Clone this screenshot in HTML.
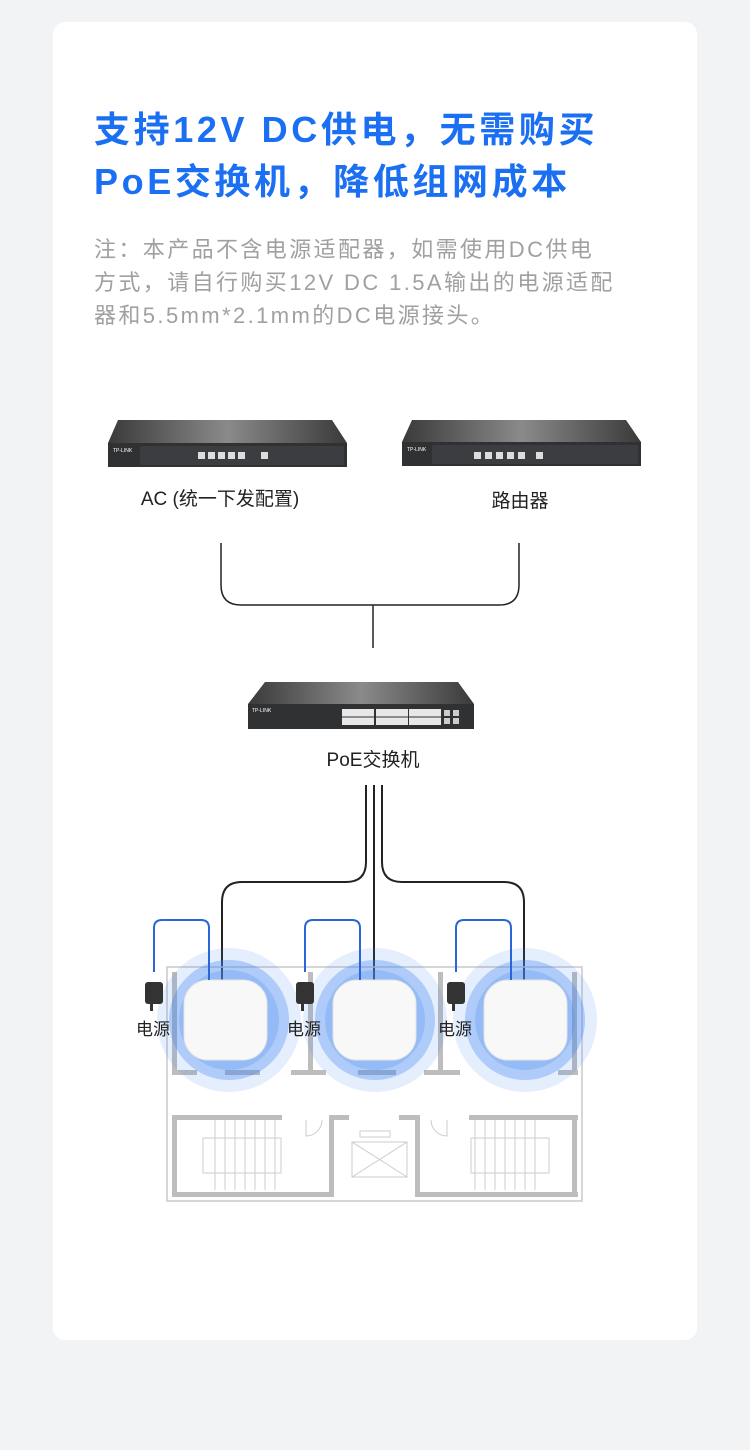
<!DOCTYPE html>
<html><head><meta charset="utf-8"><style>
html,body{margin:0;padding:0;}
body{width:750px;height:1450px;background:#f2f3f5;position:relative;overflow:hidden;font-family:"Liberation Sans","Noto Sans CJK SC",sans-serif;}
.card{position:absolute;left:53px;top:22px;width:644px;height:1318px;background:#fff;border-radius:12px;}
.t{position:absolute;left:94px;top:104px;color:#1b6ff2;font-size:36px;font-weight:bold;line-height:52px;letter-spacing:3.6px;white-space:nowrap;}
.n{position:absolute;left:94px;top:233px;color:#a0a0a0;font-size:22px;line-height:33px;letter-spacing:2.4px;white-space:nowrap;}
svg{position:absolute;left:0;top:0;}
</style></head><body>
<div class="card"></div>
<div class="t">支持12V DC供电，无需购买<br>PoE交换机，降低组网成本</div>
<div class="n">注：本产品不含电源适配器，如需使用DC供电<br>方式，请自行购买12V DC 1.5A输出的电源适配<br>器和5.5mm*2.1mm的DC电源接头。</div>
<svg width="750" height="1450" viewBox="0 0 750 1450">
<defs>
<linearGradient id="top" x1="0" x2="1"><stop offset="0" stop-color="#3a3a3a"/><stop offset="0.5" stop-color="#8a8a8a"/><stop offset="1" stop-color="#3a3a3a"/></linearGradient>
</defs>
<polygon points="118,420 332,420 347,443 108,443" fill="url(#top)"/>
<rect x="108" y="443" width="239" height="24" fill="#2f3133"/>
<rect x="140" y="446" width="204" height="19" fill="#3b3d40" rx="2"/>
<g fill="#ddd"><rect x="198" y="452" width="7" height="7"/><rect x="208" y="452" width="7" height="7"/><rect x="218" y="452" width="7" height="7"/><rect x="228" y="452" width="7" height="7"/><rect x="238" y="452" width="7" height="7"/><rect x="261" y="452" width="7" height="7"/></g>
<text x="113" y="452" fill="#fff" font-size="5">TP-LINK</text>
<polygon points="412,420 626,420 641,442 402,442" fill="url(#top)"/>
<rect x="402" y="442" width="239" height="24" fill="#2f3133"/>
<rect x="432" y="445" width="206" height="19" fill="#3b3d40" rx="2"/>
<g fill="#ddd"><rect x="474" y="452" width="7" height="7"/><rect x="485" y="452" width="7" height="7"/><rect x="496" y="452" width="7" height="7"/><rect x="507" y="452" width="7" height="7"/><rect x="518" y="452" width="7" height="7"/><rect x="536" y="452" width="7" height="7"/></g>
<text x="407" y="451" fill="#fff" font-size="5">TP-LINK</text>
<text x="220" y="505" font-size="19" fill="#222" text-anchor="middle">AC (统一下发配置)</text>
<text x="520" y="507" font-size="19" fill="#222" text-anchor="middle">路由器</text>
<path d="M221,543 V585 Q221,605 241,605 H499 Q519,605 519,585 V543" fill="none" stroke="#222" stroke-width="1.5"/>
<line x1="373" y1="605" x2="373" y2="648" stroke="#222" stroke-width="1.5"/>
<polygon points="265,682 458,682 474,704 248,704" fill="url(#top)"/>
<rect x="248" y="704" width="226" height="25" fill="#2f3133"/>
<g fill="#e8e8e8"><rect x="342" y="709" width="32" height="16"/><rect x="376" y="709" width="32" height="16"/><rect x="409" y="709" width="32" height="16"/></g>
<g stroke="#2f3133" stroke-width="1"><line x1="342" y1="717" x2="441" y2="717"/></g>
<g fill="#ccc"><rect x="444" y="710" width="6" height="6"/><rect x="453" y="710" width="6" height="6"/><rect x="444" y="718" width="6" height="6"/><rect x="453" y="718" width="6" height="6"/></g>
<text x="252" y="712" fill="#fff" font-size="5">TP-LINK</text>
<text x="373" y="766" font-size="19" fill="#222" text-anchor="middle">PoE交换机</text>
<path d="M366,785 V862 Q366,882 346,882 H242 Q222,882 222,902 V980" fill="none" stroke="#222" stroke-width="2"/>
<line x1="374" y1="785" x2="374" y2="980" stroke="#222" stroke-width="2"/>
<path d="M382,785 V862 Q382,882 402,882 H504 Q524,882 524,902 V980" fill="none" stroke="#222" stroke-width="2"/>
<rect x="167" y="967" width="415" height="234" fill="none" stroke="#c8c8c8" stroke-width="1.5"/>
<g fill="#bdbdbd">
<rect x="172" y="972" width="5" height="103"/><rect x="172" y="1070" width="25" height="5"/><rect x="225" y="1070" width="35" height="5"/>
<rect x="308" y="972" width="5" height="103"/><rect x="291" y="1070" width="35" height="5"/><rect x="358" y="1070" width="38" height="5"/>
<rect x="438" y="972" width="5" height="103"/><rect x="424" y="1070" width="36" height="5"/><rect x="558" y="1070" width="20" height="5"/>
<rect x="572" y="972" width="5" height="103"/>
<rect x="172" y="1115" width="5" height="82"/><rect x="172" y="1115" width="110" height="5"/><rect x="172" y="1192" width="160" height="5"/>
<rect x="329" y="1115" width="5" height="82"/><rect x="329" y="1115" width="20" height="5"/>
<rect x="399" y="1115" width="20" height="5"/><rect x="415" y="1115" width="5" height="82"/><rect x="415" y="1192" width="163" height="5"/>
<rect x="469" y="1115" width="109" height="5"/><rect x="572" y="1115" width="5" height="82"/>
</g>
<g stroke="#ccc" stroke-width="1" fill="none">
<rect x="203" y="1138" width="78" height="35"/><rect x="471" y="1138" width="78" height="35"/>
<path d="M215,1120 V1190 M225,1120 V1190 M235,1120 V1190 M245,1120 V1190 M255,1120 V1190 M265,1120 V1190 M275,1120 V1190"/>
<path d="M475,1120 V1190 M485,1120 V1190 M495,1120 V1190 M505,1120 V1190 M515,1120 V1190 M525,1120 V1190 M535,1120 V1190"/>
<rect x="352" y="1142" width="55" height="35"/><path d="M352,1142 L407,1177 M407,1142 L352,1177"/><rect x="360" y="1131" width="30" height="6"/>
<path d="M306,1120 V1136 A16,16 0 0 0 322,1120"/><path d="M447,1120 V1136 A16,16 0 0 1 431,1120"/>
</g>
<g>
<circle cx="229" cy="1020" r="72" fill="#4a8af0" opacity="0.15"/><circle cx="229" cy="1020" r="60" fill="#4a8af0" opacity="0.35"/><circle cx="229" cy="1020" r="50" fill="#4a8af0" opacity="0.25"/>
<circle cx="375" cy="1020" r="72" fill="#4a8af0" opacity="0.15"/><circle cx="375" cy="1020" r="60" fill="#4a8af0" opacity="0.35"/><circle cx="375" cy="1020" r="50" fill="#4a8af0" opacity="0.25"/>
<circle cx="525" cy="1020" r="72" fill="#4a8af0" opacity="0.15"/><circle cx="525" cy="1020" r="60" fill="#4a8af0" opacity="0.35"/><circle cx="525" cy="1020" r="50" fill="#4a8af0" opacity="0.25"/>
</g>
<g fill="#f8f8f8" stroke="#e4e4e4">
<rect x="184" y="980" width="83" height="80" rx="24"/><rect x="333" y="980" width="83" height="80" rx="24"/><rect x="484" y="980" width="83" height="80" rx="24"/>
</g>
<g fill="none" stroke="#2a66d8" stroke-width="2">
<path d="M154,972 V928 Q154,920 162,920 H201 Q209,920 209,928 V980"/>
<path d="M305,972 V928 Q305,920 313,920 H352 Q360,920 360,928 V980"/>
<path d="M456,972 V928 Q456,920 464,920 H503 Q511,920 511,928 V980"/>
</g>
<g fill="#333">
<rect x="145" y="982" width="18" height="22" rx="3"/><rect x="150" y="1003" width="3" height="8"/>
<rect x="296" y="982" width="18" height="22" rx="3"/><rect x="301" y="1003" width="3" height="8"/>
<rect x="447" y="982" width="18" height="22" rx="3"/><rect x="452" y="1003" width="3" height="8"/>
</g>
<g font-size="17" fill="#222">
<text x="136" y="1035">电源</text><text x="287" y="1035">电源</text><text x="438" y="1035">电源</text>
</g>
</svg>
</body></html>
